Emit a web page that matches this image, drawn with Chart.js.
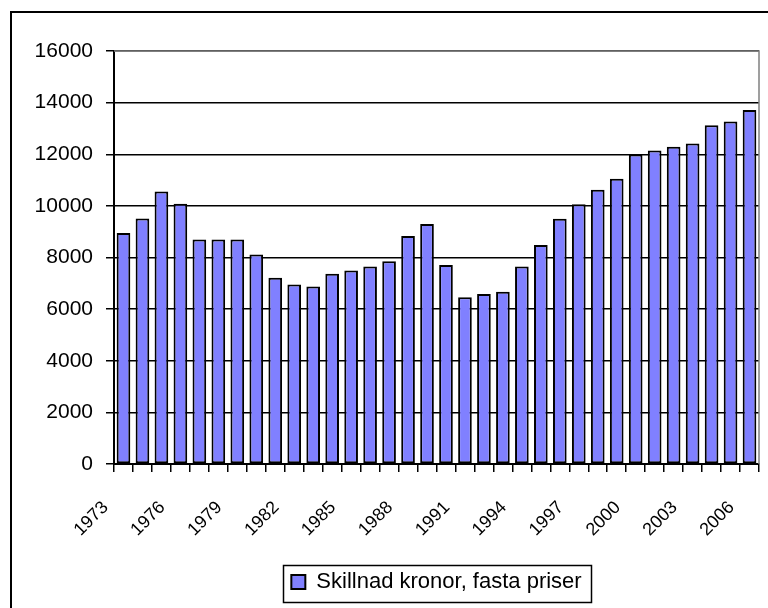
<!DOCTYPE html>
<html>
<head>
<meta charset="utf-8">
<script src="https://cdn.jsdelivr.net/npm/chart.js@4"></script>
<style>
  html, body { margin: 0; padding: 0; background: #fff; overflow: hidden; }
  #wrap { position: relative; width: 768px; height: 608px; }
  #frame { position: absolute; left: 10px; top: 11px; width: 900px; height: 700px; border: 2px solid #000; }
  #chart { position: absolute; left: 0; top: 0; }
</style>
</head>
<body>
<div id="wrap">
  <div id="frame"></div>
  <canvas id="chart" width="768" height="608"></canvas>
</div>
<script>
const years = ['1973','1974','1975','1976','1977','1978','1979','1980','1981','1982',
               '1983','1984','1985','1986','1987','1988','1989','1990','1991','1992',
               '1993','1994','1995','1996','1997','1998','1999','2000','2001','2002',
               '2003','2004','2005','2006'];
const skillnad = [8950, 9510, 10560, 10080, 8700, 8700, 8700, 8120, 7220, 6950,
                  6880, 7370, 7500, 7650, 7850, 8830, 9300, 7710, 6460, 6590,
                  6670, 7650, 8480, 9500, 10060, 10620, 11050, 11990, 12150, 12290,
                  12420, 13120, 13270, 13710];
const seriesName = 'Skillnad kronor, fasta priser';
const yMin = 0, yMax = 16000, yStep = 2000;

const FONT = "'Liberation Sans', Arial, sans-serif";

// grey frame on the top/right of the plot area, box around the legend
const framePlugin = {
  id: 'framePlugin',
  afterDraw(chart) {
    const ctx = chart.ctx, a = chart.chartArea;
    ctx.save();
    ctx.strokeStyle = '#808080';
    ctx.lineWidth = 1.5;
    ctx.beginPath();
    ctx.moveTo(a.left, a.top);
    ctx.lineTo(a.right, a.top);
    ctx.lineTo(a.right, a.bottom);
    ctx.stroke();

    const lg = chart.legend;
    const hb = lg.legendHitBoxes[0];
    if (hb) {
      ctx.strokeStyle = '#000';
      ctx.lineWidth = 1.5;
      ctx.strokeRect(Math.round(hb.left - 8) + 0.5, lg.top + 0.5, Math.round(hb.width + 18), lg.height - 1);
    }
    ctx.restore();
  }
};

new Chart(document.getElementById('chart'), {
  type: 'bar',
  data: {
    labels: years,
    datasets: [{
      label: seriesName,
      data: skillnad,
      backgroundColor: '#8080FF',
      borderColor: '#000',
      borderWidth: 2,
      borderSkipped: false,
      barPercentage: 0.72,
      categoryPercentage: 1
    }]
  },
  options: {
    responsive: false,
    animation: false,
    devicePixelRatio: 1,
    layout: { padding: { left: 0, top: 51, right: 9, bottom: 5 } },
    plugins: {
      tooltip: { enabled: false },
      legend: {
        position: 'bottom',
        fullSize: false,
        labels: {
          font: { family: FONT, size: 22 },
          color: '#000',
          boxWidth: 14,
          boxHeight: 14,
          padding: 6
        }
      }
    },
    scales: {
      x: {
        afterFit: s => { s.height = 101; s.paddingLeft = 0; s.paddingRight = 0; },
        grid: {
          offset: true,
          drawOnChartArea: false,
          color: '#000',
          lineWidth: 1.5,
          tickLength: 8
        },
        border: { color: '#000', width: 2 },
        ticks: {
          autoSkip: false,
          minRotation: 45,
          maxRotation: 45,
          padding: 25,
          labelOffset: -18,
          color: '#000',
          font: { family: FONT, size: 18 },
          callback: (v, i) => (i % 3 === 0 ? years[i] : '')
        }
      },
      y: {
        min: yMin,
        max: yMax,
        afterFit: s => { s.width = 114; s.paddingTop = 0; s.paddingBottom = 0; },
        grid: {
          color: '#000',
          lineWidth: 1.5,
          tickLength: 8
        },
        border: { color: '#000', width: 2 },
        ticks: {
          stepSize: yStep,
          padding: 13,
          color: '#000',
          font: { family: FONT, size: 21 },
          callback: v => String(v)
        }
      }
    }
  },
  plugins: [framePlugin]
});
</script>
</body>
</html>
